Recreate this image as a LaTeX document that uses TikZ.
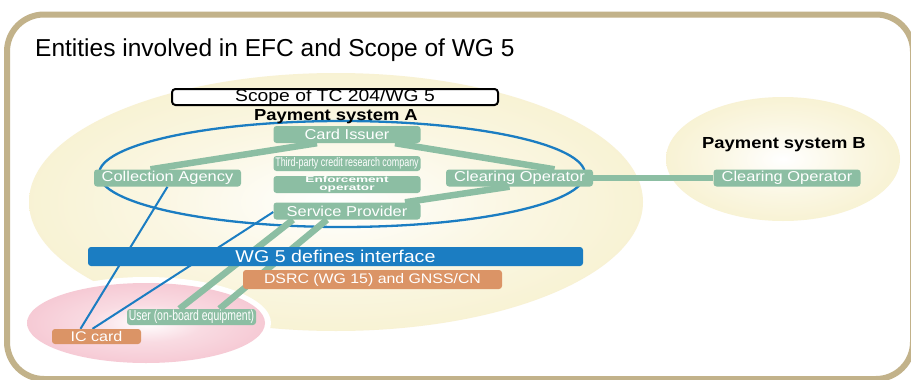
\documentclass[tikz,border=0pt]{standalone}
\usepackage{fontspec}
\setmainfont{Liberation Sans}
\newfontfamily\boxfont{Liberation Sans}[FakeStretch=1.15]
\newfontfamily\narrowfont{Liberation Sans}[FakeStretch=0.72]
\newfontfamily\widefont{Liberation Sans}[FakeStretch=1.6]
\usetikzlibrary{calc,positioning}

\definecolor{framecol}{HTML}{C2B28A}
\definecolor{paleyellow}{HTML}{F5EDC2}
\definecolor{pinkish}{HTML}{F4BECB}
\definecolor{sage}{HTML}{8CBEA3}
\definecolor{peach}{HTML}{DB9466}
\definecolor{wgblue}{HTML}{1B7DC2}

\pgfdeclareradialshading{glowyellow}{\pgfpoint{0bp}{0bp}}{color(0bp)=(white); color(14bp)=(white!55!paleyellow); color(38bp)=(paleyellow); color(50bp)=(paleyellow)}
\pgfdeclareradialshading{glowpink}{\pgfpoint{0bp}{0bp}}{color(0bp)=(white); color(12bp)=(white!45!pinkish); color(34bp)=(pinkish); color(50bp)=(pinkish)}

\pgfdeclarelayer{bg}
\pgfsetlayers{bg,main}

\tikzset{
  greenbox/.style={fill=sage, text=white, rounded corners=3pt, inner sep=0pt,
    minimum width=147pt, minimum height=17pt,
    font=\boxfont\fontsize{14.3}{16}\selectfont},
  peachbox/.style={fill=peach, text=white, rounded corners=3pt, inner sep=0pt,
    minimum height=18pt, font=\boxfont\fontsize{13.8}{16}\selectfont},
  band/.style={sage, line width=6.5pt},
  thinblue/.style={wgblue, line width=2pt}
}

\begin{document}
\begin{tikzpicture}[x=1pt,y=-1pt]
    \useasboundingbox (0,0) rectangle (911,380);
    \begin{pgfonlayer}{bg}
        \clip (0,0) rectangle (911,380);
        \fill[white] (0,0) rectangle (911,380);
        % Frame
        \draw[framecol, line width=6pt, rounded corners=37pt] (7,14.5) rectangle (913,379);
        % Payment systems
        \path[shading=glowyellow] (336,202) ellipse [x radius=307, y radius=129];
        \path[shading=glowyellow] (783,159) ellipse [x radius=117, y radius=62];
        \fill[white] (146,323) ellipse [x radius=125, y radius=46];
        \path[shading=glowpink] (146,323) ellipse [x radius=119, y radius=40];
        \draw[wgblue, line width=2.3pt] (342,174) ellipse [x radius=243, y radius=53];
    \end{pgfonlayer}
    \node[anchor=base west, inner sep=0pt, font=\fontsize{24.5}{28}\selectfont] (title) at (35,56)
        {Entities involved in EFC and Scope of WG 5};
    \node[inner sep=0pt, font=\boxfont\bfseries\fontsize{16}{18}\selectfont] (psA) at (336,117) {Payment system A};
    \node[inner sep=0pt, font=\boxfont\bfseries\fontsize{16}{18}\selectfont] (psB) at (784,145) {Payment system B};
    \node[draw=black, line width=2pt, fill=white, rounded corners=3.5pt, inner sep=0pt,
        minimum width=326pt, minimum height=16pt, font=\boxfont\fontsize{16.8}{18}\selectfont] (scope) at (335,97)
        {Scope of TC 204/WG 5};
    % Green entities
    \foreach \n/\x/\y/\t in {ci/347/134.5/Card Issuer, sp/347/211/Service Provider,
        ca/167.5/178/Collection Agency, coA/519.5/178/Clearing Operator, coB/787/178/Clearing Operator} {
        \node[greenbox] (\n) at (\x,\y) {\t};
    }
    \node[greenbox, minimum height=15pt, font=\narrowfont\fontsize{12.4}{14}\selectfont] (tp) at (347,163.5)
        {Third-party credit research company};
    \node[greenbox, align=center, font=\widefont\bfseries\fontsize{8.5}{8}\selectfont] (eo) at (347,184.5)
        {Enforcement\\operator};
    \node[greenbox, minimum width=129pt, minimum height=16pt, font=\narrowfont\fontsize{14.5}{16}\selectfont] (user) at (191.5,317)
        {User (on-board equipment)};
    \node[peachbox, minimum width=89pt, minimum height=15pt, font=\boxfont\fontsize{14}{16}\selectfont] (ic) at (96.5,336.5) {IC card};
    % Interface
    \node[fill=wgblue, text=white, rounded corners=3pt, inner sep=0pt, minimum width=495pt, minimum height=19pt,
        font=\boxfont\fontsize{17.1}{19}\selectfont] (wg) at (335.5,256.5) {WG 5 defines interface};
    \node[peachbox, minimum width=259pt, minimum height=19pt] (dsrc) at (372.5,279.5) {DSRC (WG 15) and GNSS/CN};
    % Connectors
    \begin{pgfonlayer}{bg}
        \draw[band] ($(ca.north)+(-17,0)$) -- ($(ci.south)+(-30,0)$);
        \draw[band] ($(ci.south)+(48,0)$) -- ($(coA.north)+(35,0)$);
        \draw[band] ($(sp.north)+(58,0)$) -- ($(coA.south)+(-10,0)$);
        \draw[band] (coA.east) -- (coB.west);
        \draw[band] ($(sp.south)+(-54,0)$) -- ($(user.north)+(-12,0)$);
        \draw[band] ($(sp.south)+(-20,0)$) -- ($(user.north)+(28,0)$);
        \draw[thinblue] ($(ic.north)+(-16,0)$) -- (ca.south);
        \draw[thinblue] ($(ic.north)+(-4,0)$) -- ($(sp.west)+(0,1)$);
    \end{pgfonlayer}
\end{tikzpicture}
\end{document}
